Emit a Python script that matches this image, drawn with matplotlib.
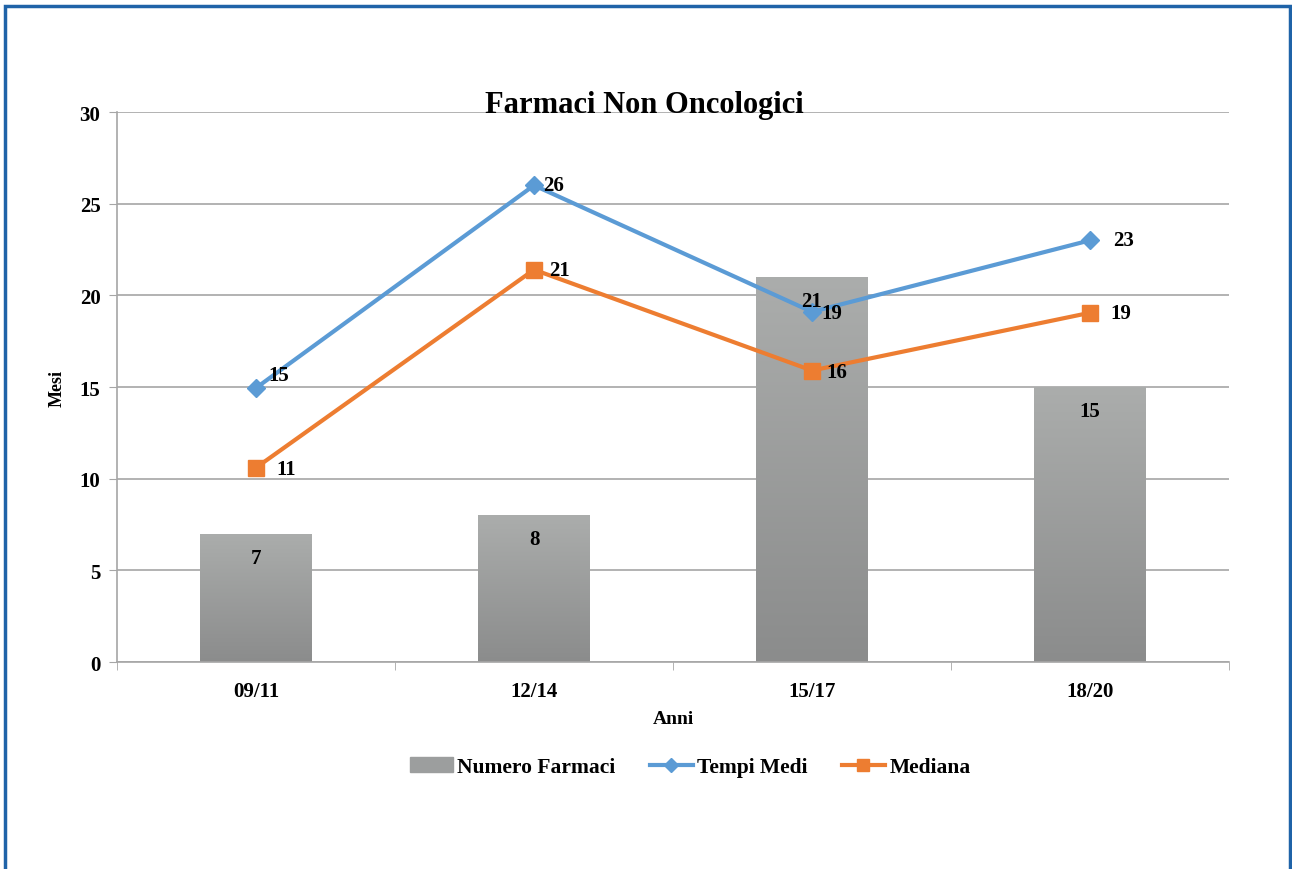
import numpy as np
import matplotlib
matplotlib.use("Agg")
import matplotlib.pyplot as plt
from matplotlib.patches import Rectangle
from matplotlib.lines import Line2D

# data
periodi = ["09/11", "12/14", "15/17", "18/20"]
numero_farmaci = [7, 8, 21, 15]
tempi_medi = [14.95, 26.0, 19.1, 23.0]
mediana = [10.6, 21.4, 15.9, 19.05]
lab_tempi = ["15", "26", "19", "23"]
lab_mediana = ["11", "21", "16", "19"]

plt.rcParams['font.family'] = ['Liberation Serif', 'DejaVu Serif']
plt.rcParams['font.weight'] = 'bold'
plt.rcParams['axes.labelweight'] = 'bold'

blue = "#5b9bd5"
orange = "#ed7d31"

fig = plt.figure(figsize=(12.92, 8.70), dpi=100)
ax = fig.add_axes([0.0906, 0.2379, 0.8606, 0.6322])

x = np.arange(len(periodi)) + 0.5
bars = ax.bar(x, numero_farmaci, width=0.4, color="#9c9e9e", zorder=2)

# vertical gradient for the bars
grad = np.linspace(0, 1, 256).reshape(-1, 1)
cmap = matplotlib.colors.LinearSegmentedColormap.from_list("g", ["#8b8c8c", "#abadac"])
for b in bars:
    bx, by = b.get_x(), b.get_y()
    w, h = b.get_width(), b.get_height()
    im = ax.imshow(grad, extent=[bx, bx + w, by, by + h], origin="lower",
                   cmap=cmap, aspect="auto", zorder=2.1)
    im.set_clip_path(b)

ax.plot(x, tempi_medi, color=blue, lw=3, marker="D", ms=9, zorder=4)
ax.plot(x, mediana, color=orange, lw=3, marker="s", ms=12, zorder=4)

# labels
for xi, v in zip(x, numero_farmaci):
    ax.text(xi, v - 1.3, str(v), ha="center", va="center", fontsize=15, zorder=5)

t_off = [(0.08, 0.7), (0.07, 0.0), (0.07, -0.05), (0.12, 0.0)]
for xi, v, s, (dx, dy) in zip(x, tempi_medi, lab_tempi, t_off):
    ax.text(xi + dx, v + dy, s, ha="center", va="center", fontsize=15, zorder=5)
m_off = [(0.11, -0.05), (0.09, 0.0), (0.09, -0.1), (0.11, 0.0)]
for xi, v, s, (dx, dy) in zip(x, mediana, lab_mediana, m_off):
    ax.text(xi + dx, v + dy, s, ha="center", va="center", fontsize=15, zorder=5)

ax.set_xlim(0, 4)
ax.set_ylim(0, 30)
ax.set_yticks(range(0, 31, 5))
ax.set_xticks(x)
ax.set_xticklabels(periodi)
ax.set_xticks(np.arange(0, 5), minor=True)
ax.tick_params(axis="x", which="major", length=0, pad=14, labelsize=15)
ax.tick_params(axis="x", which="minor", length=6, color="#a6a6a6", direction="out")
ax.tick_params(axis="y", length=6, color="#a6a6a6", pad=6, labelsize=15)
ax.grid(axis="y", color="#a6a6a6", lw=1.2, zorder=0)
ax.set_axisbelow(True)
for s in ["top", "right"]:
    ax.spines[s].set_visible(False)
for s in ["left", "bottom"]:
    ax.spines[s].set_color("#a6a6a6")
    ax.spines[s].set_linewidth(1.2)

ax.set_ylabel("Mesi", fontsize=13, labelpad=10)
ax.set_xlabel("Anni", fontsize=14, labelpad=6)
ax.text(0.474, 1.0, "Farmaci Non Oncologici", transform=ax.transAxes,
        ha="center", va="baseline", fontsize=22, zorder=6)

handles = [
    Rectangle((0, 0), 1, 1, color="#9c9e9e"),
    Line2D([], [], color=blue, lw=3, marker="D", ms=7),
    Line2D([], [], color=orange, lw=3, marker="s", ms=9),
]
fig.legend(handles, ["Numero Farmaci", "Tempi Medi", "Mediana"], loc="center",
           bbox_to_anchor=(690 / 1292, 0.117), ncol=3, frameon=False, fontsize=15.5,
           handlelength=2.0, handletextpad=0.2, columnspacing=1.6)

# blue frame around the figure
fig.patches.append(Rectangle((5 / 1292, -0.01), 1285 / 1292, 1 - 7 / 870 + 0.01,
                             transform=fig.transFigure, fill=False,
                             edgecolor="#1f63a8", lw=2.5))

fig.savefig("out.png", dpi=100)
